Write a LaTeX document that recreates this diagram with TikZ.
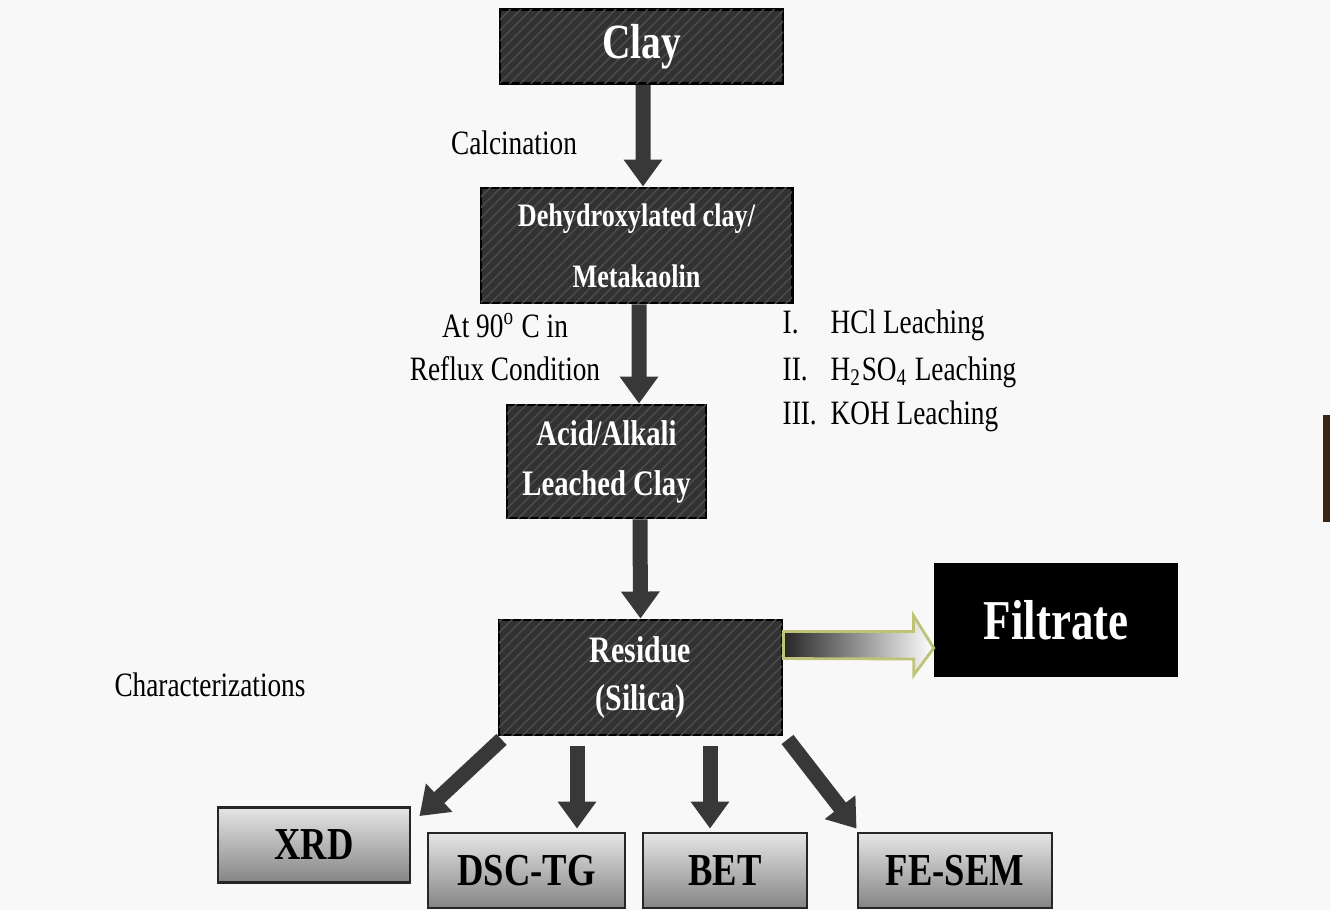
\documentclass[tikz,border=0pt]{standalone}
\usepackage{fontspec}
\setmainfont{Liberation Serif}[FakeStretch=0.8]
\usetikzlibrary{arrows.meta,patterns,calc}
\definecolor{paper}{RGB}{248,248,248}
\definecolor{slate}{RGB}{50,50,50}
\definecolor{rim}{RGB}{190,195,120}
\tikzset{
  darkbox/.style={draw=black, line width=0.8pt, fill=slate,
    postaction={pattern=north east lines, pattern color=black!70},
    text=white, align=center, inner sep=0pt},
  testbox/.style={draw=black!85, line width=0.8pt, top color=black!10, bottom color=black!48,
    font=\bfseries\fontsize{13}{15}\selectfont, inner sep=0pt, minimum height=0.75cm},
  flow/.style={draw=black!78, line width=0.15cm, -{Triangle[width=0.37cm,length=0.27cm]}},
  lbl/.style={font=\fontsize{9.7}{12.2}\selectfont, align=center, inner sep=0pt}
}
\begin{document}
\begin{tikzpicture}[x=0.01cm, y=-0.01cm]
\fill[paper] (0,0) rectangle (1330,910);
\useasboundingbox (0,0) rectangle (1330,910);

\node[darkbox, minimum width=2.83cm, minimum height=0.74cm, font=\bfseries\fontsize{14}{16}\selectfont] (clay) at (641.5,46.5) {Clay};
\node[darkbox, minimum width=3.11cm, minimum height=1.15cm, font=\bfseries\fontsize{9.3}{17.4}\selectfont] (dehyd) at (636.5,245.5) {Dehydroxylated clay/\\Metakaolin};
\node[darkbox, minimum width=1.99cm, minimum height=1.13cm, font=\bfseries\fontsize{10.2}{14.2}\selectfont] (leached) at (606.5,461.5) {Acid/Alkali\\Leached Clay};
\node[darkbox, minimum width=2.83cm, minimum height=1.15cm, font=\bfseries\fontsize{10.6}{13.7}\selectfont] (res) at (640.5,677.5) {Residue\\(Silica)};
\node[fill=black, text=white, minimum width=2.43cm, minimum height=1.14cm, font=\bfseries\fontsize{16}{18}\selectfont] (filt) at (1056,620) {Filtrate};

\node[testbox, minimum width=1.92cm] (xrd) at (314,845) {XRD};
\node[testbox, minimum width=1.97cm] (dsc) at (526.5,870.5) {DSC-TG};
\node[testbox, minimum width=1.64cm] (bet) at (725,870.5) {BET};
\node[testbox, minimum width=1.94cm] (fesem) at (955,870.5) {FE-SEM};

\node[lbl] (calcination) at (514,143) {Calcination};
\node[lbl] (reflux) at (505,347) {At 90\textsuperscript{o} C in\\Reflux Condition};
\node[lbl, anchor=west] (leachI) at (782,325) {\makebox[0.48cm][l]{I.}HCl Leaching};
\node[lbl, anchor=west] (leachII) at (782,372) {\makebox[0.48cm][l]{II.}H\textsubscript{2}SO\textsubscript{4} Leaching};
\node[lbl, anchor=west] (leachIII) at (782,416) {\makebox[0.48cm][l]{III.}KOH Leaching};
\node[lbl] (charac) at (210,685) {Characterizations};

\draw[flow] ([xshift=0.015cm]clay.south) -- ([xshift=0.065cm]dehyd.north);
\draw[flow] ([xshift=0.025cm]dehyd.south) -- ([xshift=0.325cm]leached.north);
\draw[flow] ([xshift=0.335cm]leached.south) -- (res.north);
\draw[flow] ([shift={(4,3)}]res.south west) -- ([shift={(8,10)}]xrd.north east);
\draw[flow] ([shift={(-63.5,10)}]res.south) -- ([shift={(50.5,-3)}]dsc.north);
\draw[flow] ([shift={(69.5,10)}]res.south) -- ([shift={(-15,-3)}]bet.north);
\draw[flow] ([shift={(4,3)}]res.south east) -- ([shift={(0,-3)}]fesem.north west);

\path[draw=rim, line width=0.8pt, left color=black!85, middle color=black!22, right color=white]
  ($(res.north east)+(0,13)$) -- ++(130,0) -- ++(0,-16) -- ($(filt.west)+(0,28)$)
  -- ++(-20,27) -- ++(0,-16) -- ($(res.north east)+(0,40)$) -- cycle;

\fill[black!70!brown] (1323,415) rectangle (1330,522);
\end{tikzpicture}
\end{document}
